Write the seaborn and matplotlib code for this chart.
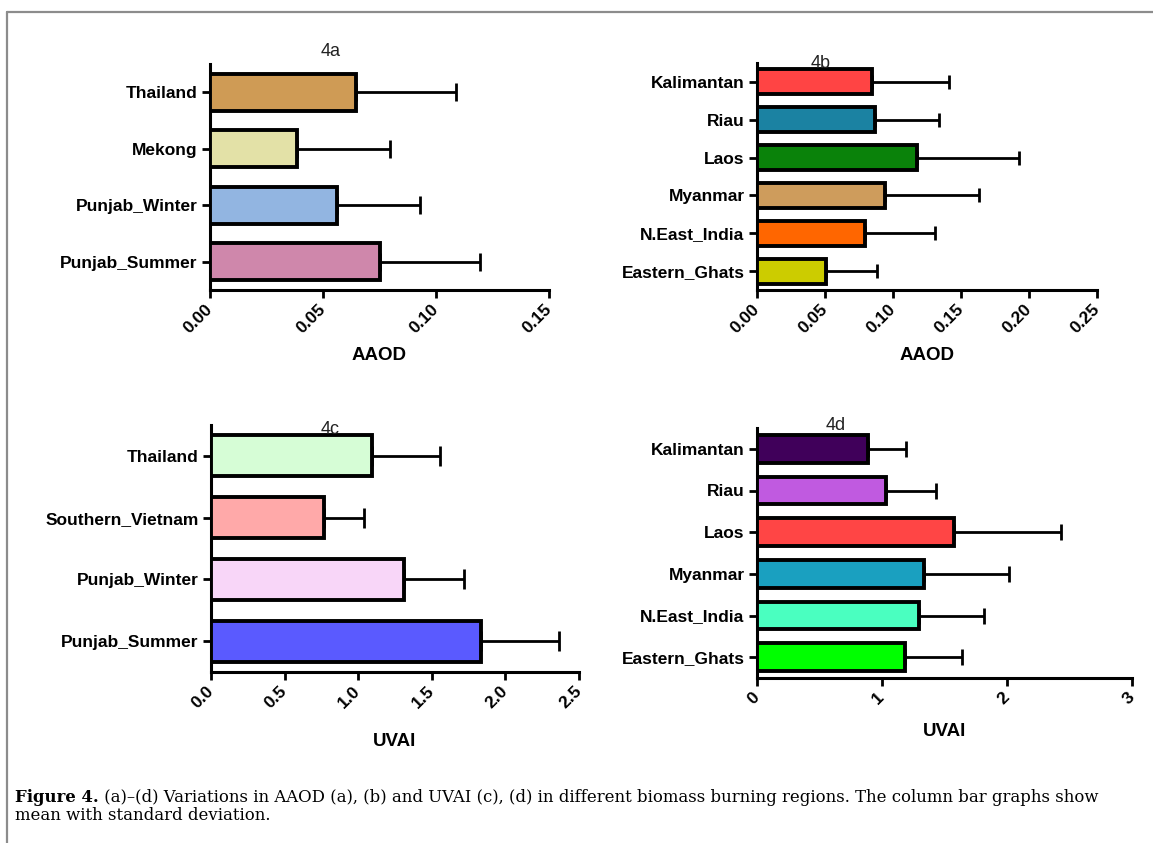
import numpy as np
import pandas as pd
import matplotlib
matplotlib.use("Agg")
import matplotlib.pyplot as plt
import seaborn as sns
from matplotlib.lines import Line2D

# ---- data: mean and standard deviation per burning region ----
regions_a = ["Thailand", "Mekong", "Punjab_Winter", "Punjab_Summer"]
aaod_a_mean = [0.0644, 0.0385, 0.0561, 0.0751]
aaod_a_sd = [0.0446, 0.0412, 0.0367, 0.0444]
colors_a = ["#CF9B55", "#E3E1A7", "#92B5E1", "#CF87AB"]

regions_b = ["Kalimantan", "Riau", "Laos", "Myanmar", "N.East_India", "Eastern_Ghats"]
aaod_b_mean = [0.0845, 0.0866, 0.1179, 0.0944, 0.0797, 0.0511]
aaod_b_sd = [0.0565, 0.0471, 0.0748, 0.0689, 0.0511, 0.0374]
colors_b = ["#FF4444", "#1B82A2", "#0A820A", "#CE9C5C", "#FF6600", "#CCCC00"]

regions_c = ["Thailand", "Southern_Vietnam", "Punjab_Winter", "Punjab_Summer"]
uvai_c_mean = [1.093, 0.769, 1.314, 1.837]
uvai_c_sd = [0.460, 0.269, 0.407, 0.527]
colors_c = ["#D6FDD6", "#FFA9A9", "#F8D6F8", "#5A5AFF"]

regions_d = ["Kalimantan", "Riau", "Laos", "Myanmar", "N.East_India", "Eastern_Ghats"]
uvai_d_mean = [0.884, 1.030, 1.578, 1.337, 1.297, 1.185]
uvai_d_sd = [0.307, 0.401, 0.857, 0.682, 0.518, 0.454]
colors_d = ["#40005A", "#C05AE0", "#FF4545", "#1AA0C0", "#4AFFC0", "#00FF00"]

ticks_a = [0.00, 0.05, 0.10, 0.15]
ticks_b = [0.00, 0.05, 0.10, 0.15, 0.20, 0.25]
ticks_c = [0.0, 0.5, 1.0, 1.5, 2.0, 2.5]
ticks_d = [0, 1, 2, 3]

caption_head = "Figure 4."
caption_line1 = (" (a)–(d) Variations in AAOD (a), (b) and UVAI (c), (d) in different "
                 "biomass burning regions. The column bar graphs show")
caption_line2 = "mean with standard deviation."

# ---- style ----
sns.set_style("ticks")
plt.rcParams["font.family"] = ["Liberation Sans", "DejaVu Sans"]
plt.rcParams["text.color"] = "black"
plt.rcParams["axes.labelcolor"] = "black"

W, H = 1153, 843
fig = plt.figure(figsize=(W / 100, H / 100), dpi=100)


def px_axes(x0, ytop, x1, ybot):
    return fig.add_axes([x0 / W, 1 - ybot / H, (x1 - x0) / W, (ybot - ytop) / H])


def draw_panel(ax, cats, means, sds, colors, ticks, fmt, xlabel, cap, label_gap, title, title_xy):
    df = pd.DataFrame({"region": cats, "value": means})
    sns.barplot(data=df, x="value", y="region", hue="region", order=cats,
                hue_order=cats, palette=dict(zip(cats, colors)), orient="h",
                width=0.66, saturation=1, edgecolor="black", linewidth=2.8,
                legend=False, ax=ax, zorder=3)
    ax.errorbar(means, np.arange(len(cats)),
                xerr=[np.zeros(len(cats)), sds], fmt="none", ecolor="black",
                elinewidth=2.0, capsize=cap, capthick=2.0, zorder=2)
    ax.set_xlim(ticks[0], ticks[-1])
    ax.set_ylim(len(cats) - 0.5, -0.5)
    ax.set_xticks(ticks)
    ax.set_xticklabels([fmt.format(t) for t in ticks], rotation=45, ha="right",
                       va="center", rotation_mode="anchor")
    ax.set_ylabel("")
    ax.set_xlabel(xlabel, fontsize=13.5, fontweight="bold", color="black")
    ax.xaxis.label.set_va("center")
    h_px = ax.get_position().height * H
    ax.xaxis.set_label_coords(0.5, -label_gap / h_px)
    for side in ("top", "right"):
        ax.spines[side].set_visible(False)
    for side in ("left", "bottom"):
        ax.spines[side].set_linewidth(2.2)
        ax.spines[side].set_color("black")
    ax.tick_params(axis="both", width=2.0, length=6, labelsize=12.5,
                   colors="black", labelcolor="black", pad=3)
    ax.tick_params(axis="x", pad=6)
    for lbl in ax.get_xticklabels() + ax.get_yticklabels():
        lbl.set_fontweight("bold")
    fig.text(title_xy[0] / W, 1 - title_xy[1] / H, title, fontsize=13,
             color="#222222", ha="center", va="center")


ax_a = px_axes(210, 64, 549, 290)
draw_panel(ax_a, regions_a, aaod_a_mean, aaod_a_sd, colors_a, ticks_a, "{:.2f}",
           "AAOD", 6.8, 65, "4a", (331, 52))

ax_b = px_axes(757, 63, 1097, 290)
draw_panel(ax_b, regions_b, aaod_b_mean, aaod_b_sd, colors_b, ticks_b, "{:.2f}",
           "AAOD", 4.8, 65, "4b", (821, 63))

ax_c = px_axes(211, 425, 579, 672)
draw_panel(ax_c, regions_c, uvai_c_mean, uvai_c_sd, colors_c, ticks_c, "{:.1f}",
           "UVAI", 7.5, 70, "4c", (330, 430))

ax_d = px_axes(757, 428, 1132, 678)
draw_panel(ax_d, regions_d, uvai_d_mean, uvai_d_sd, colors_d, ticks_d, "{:.0f}",
           "UVAI", 5.5, 54, "4d", (836, 425))

# ---- outer frame (top and left edges) ----
frame_kw = dict(transform=fig.transFigure, color="#8C8C8C", lw=1.6)
fig.add_artist(Line2D([7 / W, 1.0], [1 - 12 / H, 1 - 12 / H], **frame_kw))
fig.add_artist(Line2D([7 / W, 7 / W], [1 - 12 / H, 0.0], **frame_kw))

# ---- caption, sized to span the text width ----
serif = ["DejaVu Serif"]
cap_x0, cap_x1 = 15, 1105
y1, y2 = 797, 815


def caption(fs):
    t0 = fig.text(cap_x0 / W, 1 - y1 / H, caption_head, family=serif,
                  fontweight="bold", fontsize=fs, va="center", ha="left",
                  color="black")
    fig.canvas.draw()
    r = fig.canvas.get_renderer()
    w0 = t0.get_window_extent(r).width
    t1 = fig.text((cap_x0 + w0) / W, 1 - y1 / H, caption_line1, family=serif,
                  fontsize=fs, va="center", ha="left", color="black")
    t2 = fig.text(cap_x0 / W, 1 - y2 / H, caption_line2, family=serif,
                  fontsize=fs, va="center", ha="left", color="black")
    fig.canvas.draw()
    total = w0 + t1.get_window_extent(r).width
    return (t0, t1, t2), total


texts, total = caption(10)
for t in texts:
    t.remove()
fs_fit = 10 * (cap_x1 - cap_x0) / total
caption(fs_fit)

fig.savefig("out.png", dpi=100, facecolor="white")
